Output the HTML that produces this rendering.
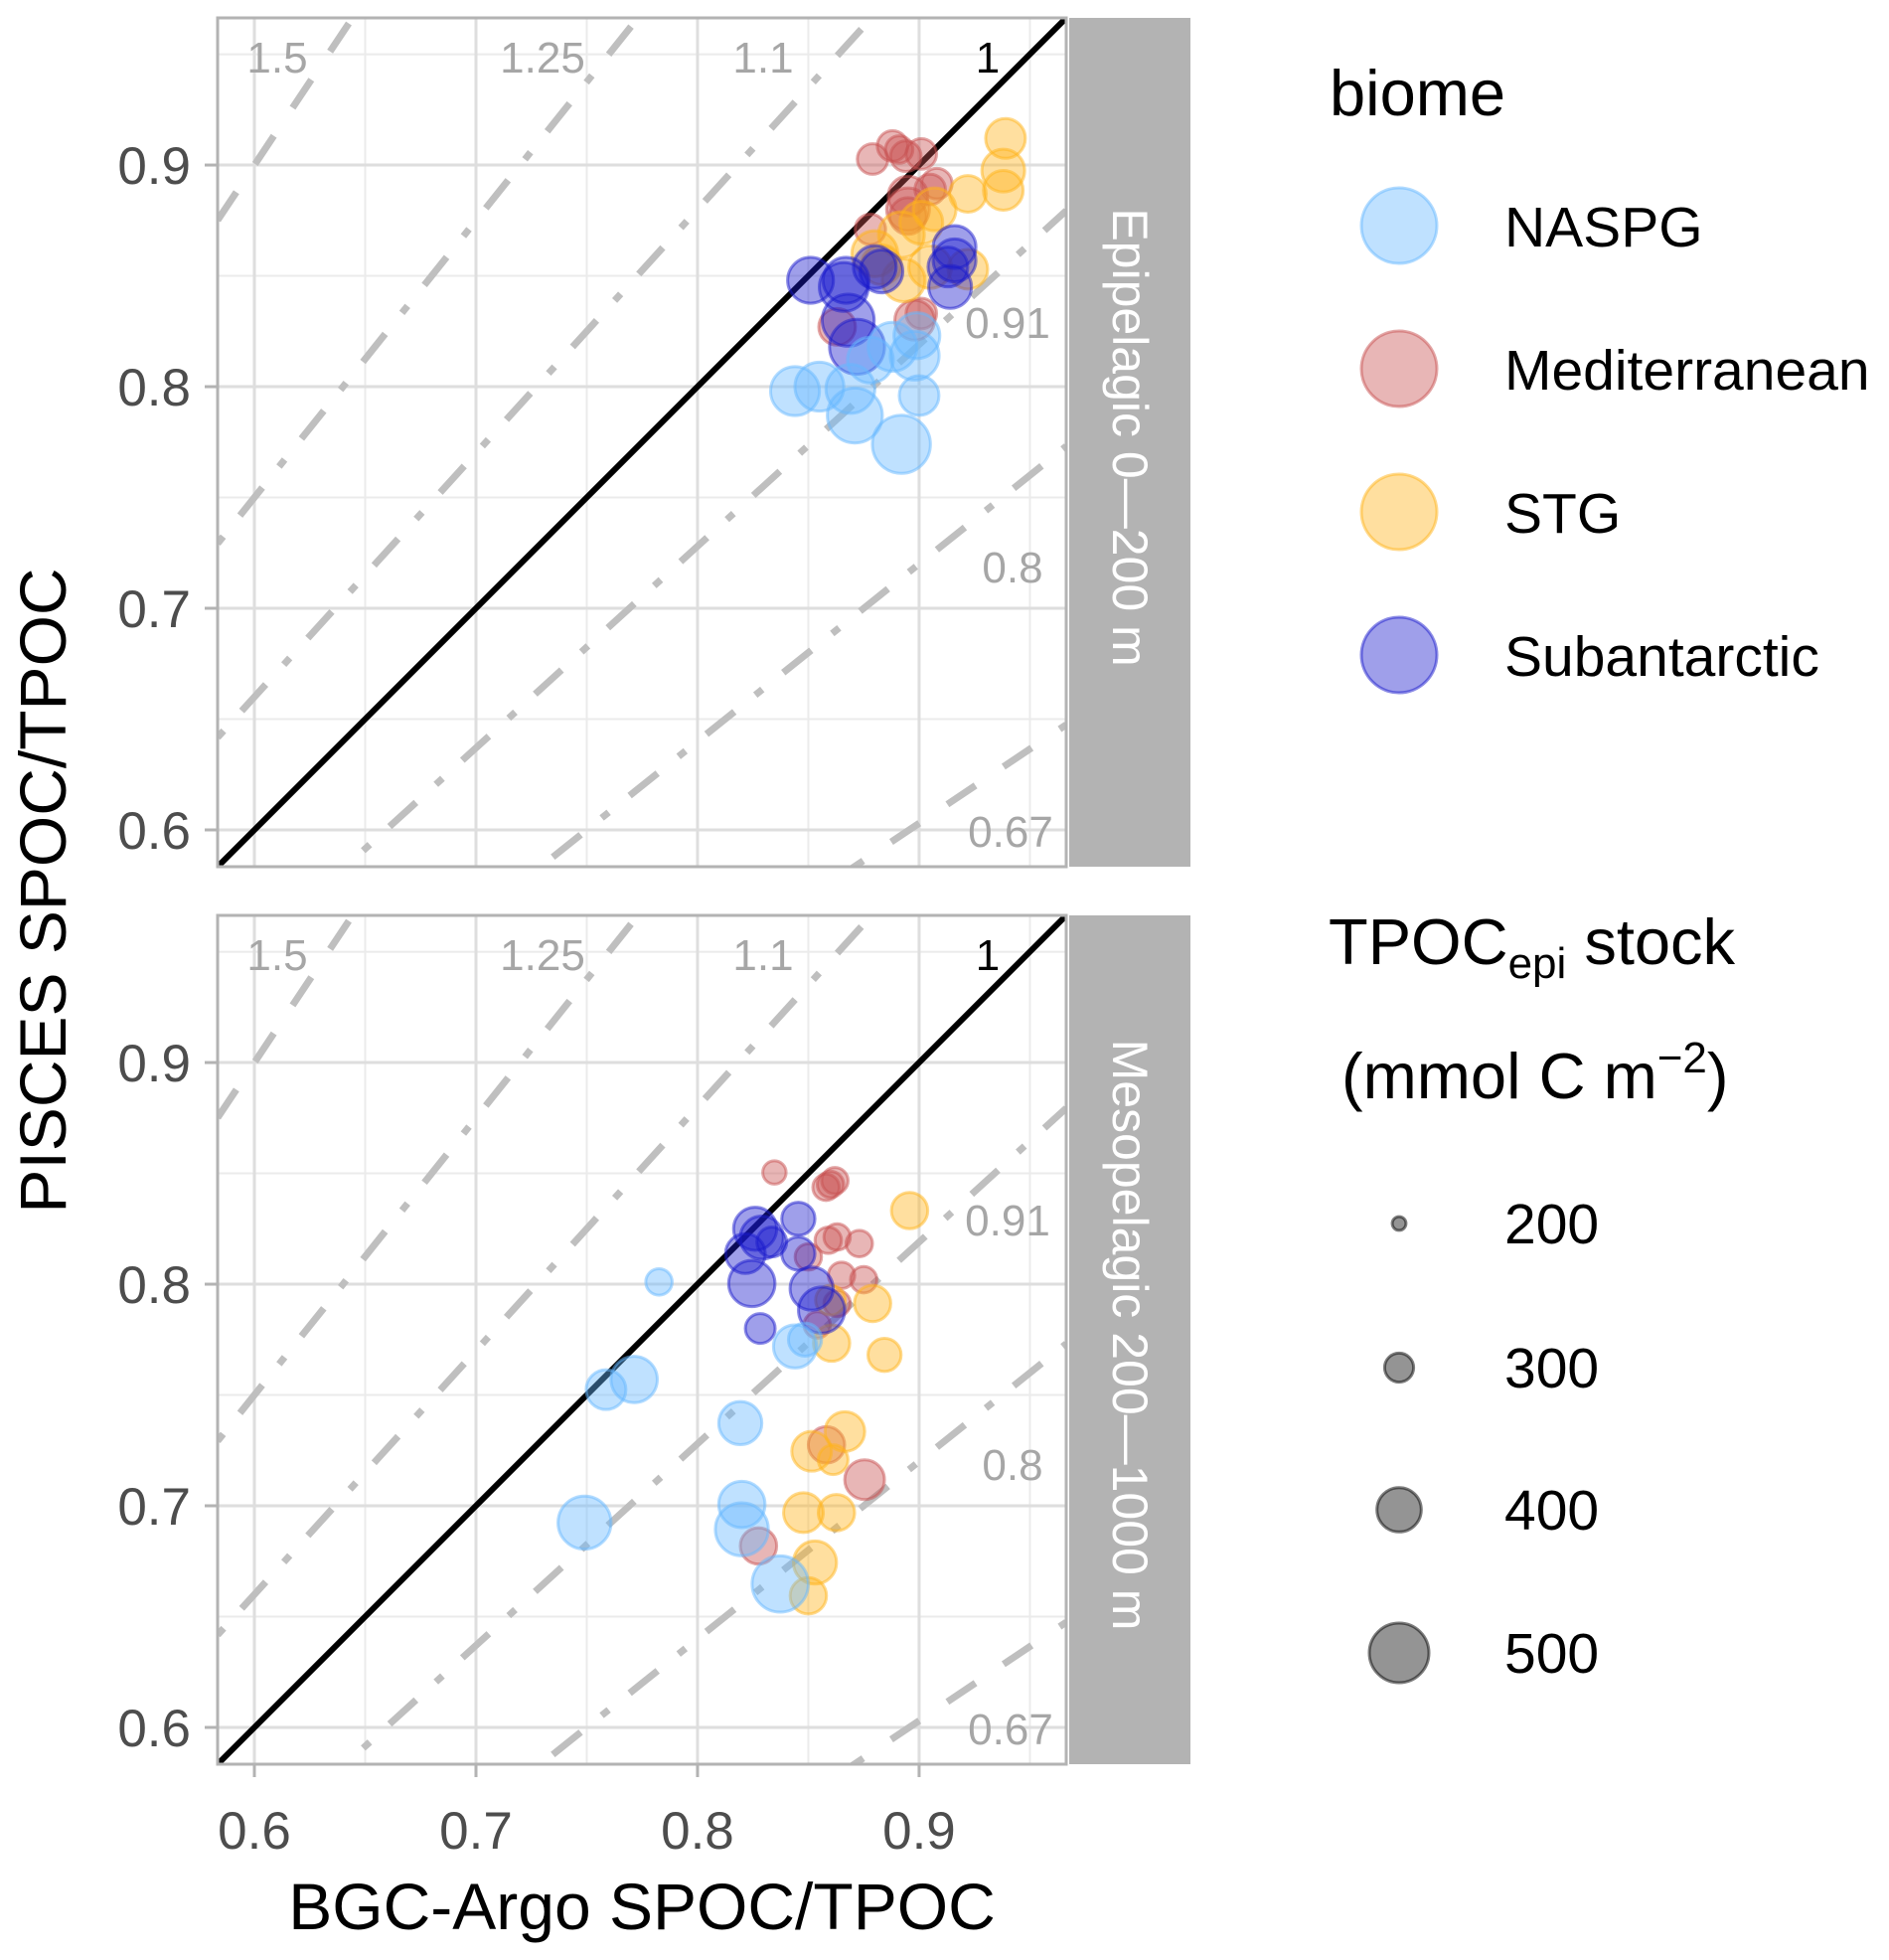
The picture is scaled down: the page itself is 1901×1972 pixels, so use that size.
<!DOCTYPE html>
<html><head><meta charset="utf-8">
<style>
html,body{margin:0;padding:0;background:#fff;width:1901px;height:1972px;overflow:hidden;}
svg{display:block;font-family:"Liberation Sans",Arial,sans-serif;}
</style></head>
<body>
<svg id="chart" width="1901" height="1972" viewBox="0 0 1901 1972" xmlns="http://www.w3.org/2000/svg">
<defs>
<clipPath id="clipTop"><rect x="219" y="18" width="854" height="854"/></clipPath>
<clipPath id="clipBot"><rect x="219" y="921" width="854" height="854"/></clipPath>
</defs>
<rect x="0" y="0" width="1901" height="1972" fill="#fff"/>
<g id="panels"></g>
<text x="646" y="1941" font-size="66" text-anchor="middle" fill="#000">BGC-Argo SPOC/TPOC</text>
<text transform="translate(66,896) rotate(-90)" font-size="66" text-anchor="middle" fill="#000">PISCES SPOC/TPOC</text>
<g id="legend"></g>
</svg>
<script>
// ---- data ----
const biomes = ["NASPG","Mediterranean","STG","Subantarctic"];
const biomeColors = ["#66b8ff","#c85050","#ffb31a","#1a1acc"];
const ratioValues = [1.5,1.25,1.1,1,0.91,0.8,0.67];
const ratioLabels = ["1.5","1.25","1.1","1","0.91","0.8","0.67"];
const ratioStyles = ["dashed","dotdash","dotdash","solid","dotdash","dotdash","dashed"];
const tickValues = [0.6,0.7,0.8,0.9];
const tickLabels = ["0.6","0.7","0.8","0.9"];
const minorValues = [0.65,0.75,0.85,0.95];
const panelNames = ["Epipelagic 0\u2014200 m","Mesopelagic 200\u20141000 m"];
const sizeBreaks = [200,300,400,500];

// epipelagic: x, y, biome index, stock
const epiX = [0.879,0.888,0.891,0.894,0.901,0.908,0.905,0.895,0.895,0.895,0.878,0.898,0.901,0.863,
  0.939,0.938,0.938,0.922,0.907,0.901,0.892,0.880,0.893,0.905,0.922,0.883,
  0.851,0.866,0.880,0.883,0.916,0.916,0.914,0.868,0.872,0.913,0.867,
  0.844,0.855,0.869,0.871,0.892,0.900,0.898,0.888,0.899,0.878];
const epiY = [0.9027,0.9086,0.907,0.904,0.905,0.8916,0.889,0.886,0.880,0.877,0.871,0.830,0.833,0.827,
  0.912,0.8975,0.8886,0.887,0.880,0.874,0.8686,0.860,0.848,0.854,0.853,0.855,
  0.848,0.845,0.854,0.852,0.863,0.857,0.845,0.830,0.818,0.854,0.848,
  0.798,0.800,0.799,0.787,0.774,0.796,0.814,0.818,0.823,0.812];
const epiBiome = [1,1,1,1,1,1,1,1,1,1,1,1,1,1,
  2,2,2,2,2,2,2,2,2,2,2,2,
  3,3,3,3,3,3,3,3,3,3,3,
  0,0,0,0,0,0,0,0,0,0];
const epiStock = [310,310,290,310,310,310,310,370,390,350,310,370,310,350,
  370,390,370,350,390,390,410,410,390,390,370,370,
  410,430,390,390,390,390,390,450,470,370,410,
  430,430,430,470,490,370,430,430,410,410];

// mesopelagic
const mesoX = [0.8347,0.858,0.862,0.860,0.859,0.863,0.873,0.850,0.865,0.875,0.863,0.854,0.8582,0.8754,0.8275,
  0.8957,0.879,0.860,0.8844,0.8605,0.8665,0.8515,0.8612,0.8478,0.8627,0.853,0.850,
  0.826,0.829,0.8216,0.8245,0.8455,0.8335,0.8455,0.8515,0.856,0.8283,
  0.7826,0.7714,0.7587,0.844,0.8485,0.8193,0.820,0.820,0.8373,0.749];
const mesoY = [0.8504,0.8437,0.8467,0.845,0.8198,0.8213,0.8183,0.8123,0.804,0.802,0.7913,0.7816,0.7275,0.7118,0.6819,
  0.8332,0.7913,0.7928,0.7681,0.7734,0.7335,0.7246,0.7208,0.6969,0.6969,0.6744,0.6594,
  0.825,0.821,0.8138,0.8003,0.8295,0.819,0.8138,0.798,0.7883,0.780,
  0.801,0.757,0.7524,0.7719,0.775,0.7373,0.7006,0.6894,0.6647,0.6924];
const mesoBiome = [1,1,1,1,1,1,1,1,1,1,1,1,1,1,1,
  2,2,2,2,2,2,2,2,2,2,2,2,
  3,3,3,3,3,3,3,3,3,3,
  0,0,0,0,0,0,0,0,0,0];
const mesoStock = [263,283,283,283,283,283,283,283,283,283,283,283,348,370,348,
  348,348,305,327,348,370,370,305,370,348,392,348,
  392,392,370,413,327,305,327,392,413,305,
  283,413,370,392,327,392,413,457,478,457];

// ---- scales ----
const X0 = 219, PW = 854, DMIN = 0.5834, DMAX = 0.9664;
const panelTops = [18, 921];
function sx(v){ return X0 + (v - DMIN) / (DMAX - DMIN) * PW; }
function sy(v, p){ return panelTops[p] + PW - (v - DMIN) / (DMAX - DMIN) * PW; }
function rad(s){ return Math.max(3, 0.077 * s - 8.5); }
function hexA(h,a){ const n=parseInt(h.slice(1),16); return `rgba(${n>>16},${(n>>8)&255},${n&255},${a})`; }

const NS = "http://www.w3.org/2000/svg";
function mk(tag, attrs, parent){ const e=document.createElementNS(NS,tag); for(const k in attrs) e.setAttribute(k, attrs[k]); parent.appendChild(e); return e; }

const panelsG = document.getElementById("panels");
const pointSets = [[epiX,epiY,epiBiome,epiStock],[mesoX,mesoY,mesoBiome,mesoStock]];
const dashMap = {dashed:"34 34", dotdash:"9 27 36 27", solid:""};

for (let p=0;p<2;p++){
  const top = panelTops[p];
  const g = mk("g",{},panelsG);
  
  
  mk("rect",{x:X0,y:top,width:PW,height:PW,fill:"#fff"},g);
  minorValues.forEach(v=>{
    if (v<DMAX){
      const l1 = mk("line",{x1:sx(v),x2:sx(v),y1:top,y2:top+PW,stroke:"#ebebeb","stroke-width":2},g);
      
      
      const l2 = mk("line",{x1:X0,x2:X0+PW,y1:sy(v,p),y2:sy(v,p),stroke:"#ebebeb","stroke-width":2},g);
      
      
    }
  });
  tickValues.forEach(v=>{
    const l1 = mk("line",{x1:sx(v),x2:sx(v),y1:top,y2:top+PW,stroke:"#dedede","stroke-width":3},g);
    
    
    const l2 = mk("line",{x1:X0,x2:X0+PW,y1:sy(v,p),y2:sy(v,p),stroke:"#dedede","stroke-width":3},g);
    
    
  });
  const lg = mk("g",{"clip-path": p===0?"url(#clipTop)":"url(#clipBot)"},g);
  ratioValues.forEach((k,i)=>{
    const xa = DMIN, xb = DMAX;
    const isOne = ratioStyles[i]==="solid";
    const ln = mk("line",{x1:sx(xa),y1:sy(k*xa,p),x2:sx(xb),y2:sy(k*xb,p),
      stroke: isOne?"#000":"#bfbfbf","stroke-width": isOne?6:7,"stroke-linecap":"butt"},lg);
    if (!isOne) ln.setAttribute("stroke-dasharray", dashMap[ratioStyles[i]]);
    
    
  });
  const [xs,ys,bs,ss] = pointSets[p];
  const pg = mk("g",{"clip-path": p===0?"url(#clipTop)":"url(#clipBot)"},g);
  for (let i=0;i<xs.length;i++){
    const c = biomeColors[bs[i]];
    const cc = mk("circle",{cx:sx(xs[i]),cy:sy(ys[i],p),r:rad(ss[i]),fill:hexA(c,0.42),stroke:hexA(c,0.5),"stroke-width":3},pg);
    
    
  }
  const lblPos = [[279,57],[546,57],[768,57],[994,57],[1014,324],[1019,570],[1017,836]];
  ratioLabels.forEach((t,i)=>{
    const tx = mk("text",{x:lblPos[i][0],y:lblPos[i][1]+(top-18)+16,"font-size":44,"text-anchor":"middle",fill: t==="1"?"#000":"#a6a6a6"},g);
    tx.textContent = t;
    
    
  });
  mk("rect",{x:X0,y:top,width:PW,height:PW,fill:"none",stroke:"#b3b3b3","stroke-width":3},g);
  const st = mk("rect",{x:1076,y:top,width:122,height:PW,fill:"#b3b3b3"},g);
  
  
  const stt = mk("text",{transform:`translate(1120,${top+PW/2 - 5}) rotate(90)`,"font-size":50,"text-anchor":"middle",fill:"#fff"},g);
  stt.textContent = panelNames[p];
  
  
  tickValues.forEach((v,i)=>{
    mk("line",{x1:206,x2:219,y1:sy(v,p),y2:sy(v,p),stroke:"#b3b3b3","stroke-width":3},g);
    const t = mk("text",{x:192,y:sy(v,p)+19,"font-size":53,"text-anchor":"end",fill:"#4d4d4d"},g);
    t.textContent = tickLabels[i];
    
    
  });
}
tickValues.forEach((v,i)=>{
  mk("line",{x1:sx(v),x2:sx(v),y1:1775,y2:1788,stroke:"#b3b3b3","stroke-width":3},panelsG);
  const t = mk("text",{x:sx(v),y:1860,"font-size":53,"text-anchor":"middle",fill:"#4d4d4d"},panelsG);
  t.textContent = tickLabels[i];
  
  
});

// legend
const L = document.getElementById("legend");
const bt = mk("text",{x:1338,y:116,"font-size":65,fill:"#000"},L);
bt.textContent = "biome";


biomes.forEach((b,i)=>{
  const cy = 227 + i*144;
  const c = mk("circle",{cx:1408,cy:cy,r:38,fill:hexA(biomeColors[i],0.42),stroke:hexA(biomeColors[i],0.5),"stroke-width":3},L);
  
  
  const t = mk("text",{x:1514,y:cy+21,"font-size":57,fill:"#000"},L);
  t.textContent = b;
  
  
});
const st1 = mk("text",{x:1337,y:970,"font-size":65,fill:"#000"},L);
st1.innerHTML = 'TPOC<tspan font-size="44" dy="14">epi</tspan><tspan dy="-14"> stock</tspan>';


const st2 = mk("text",{x:1350,y:1105,"font-size":65,fill:"#000"},L);
st2.innerHTML = '(mmol C m<tspan font-size="44" dy="-26">\u22122</tspan><tspan dy="26">)</tspan>';


const sizeY = [1231,1376,1519,1663];
sizeBreaks.forEach((s,i)=>{
  const c = mk("circle",{cx:1408,cy:sizeY[i],r:rad(s),fill:"rgba(0,0,0,0.42)",stroke:"rgba(0,0,0,0.5)","stroke-width":3},L);
  
  
  const t = mk("text",{x:1514,y:sizeY[i]+20,"font-size":57,fill:"#000"},L);
  t.textContent = String(s);
  
  
});
</script>
</body></html>
